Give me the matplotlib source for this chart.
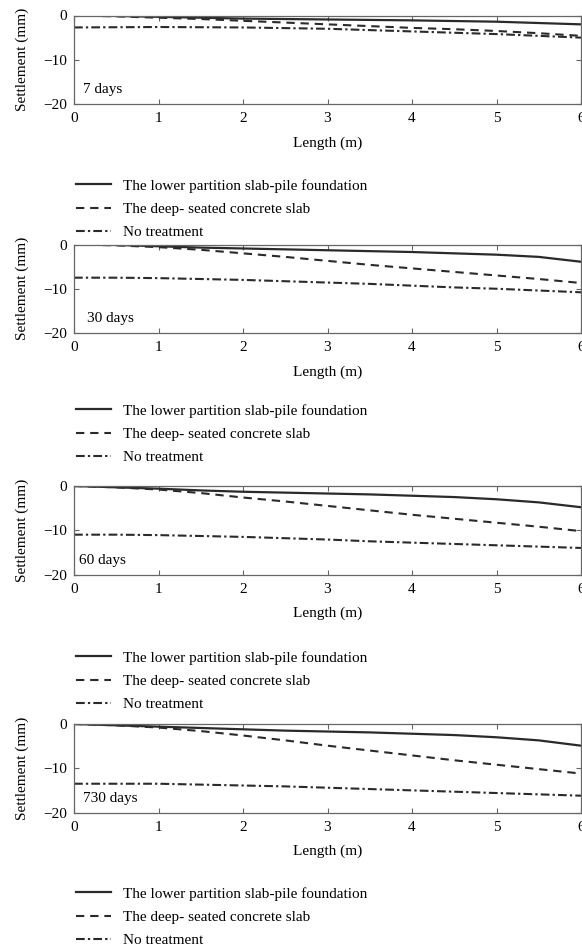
import matplotlib
matplotlib.use("Agg")
import matplotlib.pyplot as plt

plt.rcParams['font.family'] = ['Liberation Serif', 'DejaVu Serif']

length = [0, 0.5, 1, 1.5, 2, 2.5, 3, 3.5, 4, 4.5, 5, 5.5, 6]
panel_labels = ["7 days", "30 days", "60 days", "730 days"]
series_names = ["The lower partition slab-pile foundation",
                "The deep- seated concrete slab",
                "No treatment"]

slab_pile = [
    [0, -0.1, -0.3, -0.5, -0.7, -0.8, -0.9, -1.0, -1.1, -1.25, -1.4, -1.7, -2.0],
    [0, -0.1, -0.4, -0.7, -0.9, -1.1, -1.3, -1.5, -1.7, -2.0, -2.3, -2.8, -3.9],
    [0, -0.3, -0.6, -1.0, -1.3, -1.5, -1.7, -1.9, -2.2, -2.5, -3.0, -3.7, -4.8],
    [0, -0.3, -0.6, -0.9, -1.2, -1.5, -1.7, -1.9, -2.2, -2.5, -3.0, -3.7, -4.9],
]
deep_slab = [
    [0, -0.2, -0.5, -0.8, -1.2, -1.6, -2.0, -2.4, -2.8, -3.1, -3.5, -4.0, -4.6],
    [0, -0.2, -0.6, -1.2, -2.0, -2.8, -3.7, -4.6, -5.4, -6.2, -7.0, -7.8, -8.7],
    [0, -0.3, -0.8, -1.6, -2.6, -3.5, -4.5, -5.5, -6.5, -7.4, -8.3, -9.2, -10.2],
    [0, -0.3, -0.8, -1.6, -2.6, -3.7, -4.9, -6.0, -7.1, -8.2, -9.2, -10.2, -11.2],
]
no_treatment = [
    [-2.7, -2.65, -2.6, -2.65, -2.7, -2.85, -3.0, -3.3, -3.6, -3.9, -4.2, -4.6, -5.0],
    [-7.5, -7.5, -7.6, -7.8, -8.0, -8.3, -8.6, -8.9, -9.3, -9.7, -10.0, -10.4, -10.8],
    [-11.0, -11.0, -11.1, -11.3, -11.5, -11.8, -12.1, -12.5, -12.8, -13.1, -13.4, -13.7, -14.0],
    [-13.5, -13.5, -13.5, -13.7, -13.9, -14.1, -14.4, -14.7, -15.0, -15.3, -15.6, -15.9, -16.2],
]

W, H = 582, 951
fig = plt.figure(figsize=(W / 100, H / 100), dpi=100)

axes_tops = [15.5, 244.5, 486, 724]
axes_h = 88.5
left_px, right_px = 74, 581
legend_tops = [179, 404, 651, 887]
label_x_px = [9, 13, 5, 9]
fs = 11
spine_col = '#666666'
line_col = '#2a2a2a'

for i in range(4):
    top = axes_tops[i]
    ax = fig.add_axes([left_px / W, 1 - (top + axes_h) / H,
                       (right_px - left_px) / W, axes_h / H])
    l1, = ax.plot(length, slab_pile[i], color=line_col, lw=1.6, ls='-')
    l2, = ax.plot(length, deep_slab[i], color=line_col, lw=1.5,
                  ls=(0, (4.0, 2.8)))
    l3, = ax.plot(length, no_treatment[i], color=line_col, lw=1.5,
                  ls=(0, (4.2, 1.5, 1.1, 1.5)))
    ax.set_xlim(0, 6)
    ax.set_ylim(-20, 0)
    ax.set_xticks(range(7))
    ax.set_yticks([0, -10, -20])
    ax.set_yticklabels(['0', '\u221210', '\u221220'])
    ax.tick_params(direction='in', top=True, right=True, length=3.5,
                   width=0.8, color=spine_col, labelsize=fs)
    ax.tick_params(axis='x', pad=6)
    ax.tick_params(axis='y', pad=5)
    for s in ax.spines.values():
        s.set_color(spine_col)
        s.set_linewidth(0.9)
    ax.set_xlabel("Length (m)", fontsize=fs, labelpad=8)
    ax.set_ylabel("Settlement (mm)", fontsize=fs, labelpad=10)
    ax.text(label_x_px[i] / (right_px - left_px), 0.16, panel_labels[i],
            transform=ax.transAxes, fontsize=fs, ha='left', va='center')
    ax.legend([l1, l2, l3], series_names, loc='upper left',
              bbox_to_anchor=(76 / W, 1 - legend_tops[i] / H),
              bbox_transform=fig.transFigure, frameon=False, fontsize=fs,
              handlelength=2.3, handletextpad=0.8, labelspacing=0.62,
              borderpad=0, borderaxespad=0)

fig.savefig("out.png", dpi=100)
